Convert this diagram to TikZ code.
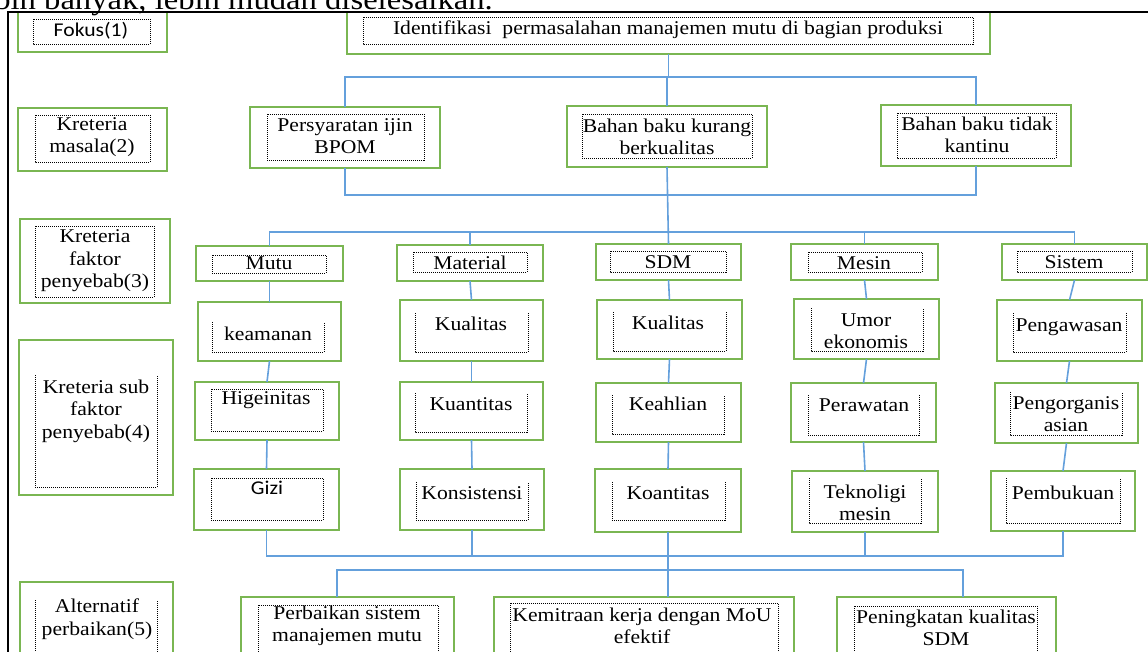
\documentclass[tikz,border=0pt]{standalone}
\usepackage{fontspec}
\setmainfont{Liberation Serif}[FakeStretch=1.11]
\newfontfamily\calfont{Carlito}[FakeStretch=1.11]
\usetikzlibrary{fit}
\definecolor{boxgreen}{RGB}{122,182,82}
\definecolor{linkblue}{RGB}{100,160,220}
\tikzset{
  gbox/.style={draw=boxgreen, line width=1.8pt, inner sep=0pt, outer sep=0pt},
  dotbox/.style={draw=black, line width=1pt, dash pattern=on 1pt off 1pt},
  txt/.style={inner sep=0pt, align=center, font=\fontsize{19.5}{22.5}\selectfont},
  link/.style={draw=linkblue, line width=1.6pt},
  frameline/.style={draw=black, line width=2pt},
}
\newcommand\gbx[5]{\node[gbox, fit={(#2,#3) (#4,#5)}] (#1) {};}
\newcommand\dbx[4]{\draw[dotbox] (#1,#2) rectangle (#3,#4);}
\newcommand\obx[4]{\draw[dotbox] (#1,#2) -- (#1,#4) -- (#3,#4) -- (#3,#2);}
\newcommand\tnx[4]{\node[txt] (#1) at (#2,#3) {#4};}
\begin{document}
\begin{tikzpicture}[x=1pt,y=-1pt]
\useasboundingbox (0,0) rectangle (1148,651);
\begin{scope}
\clip (0,0) rectangle (1148,651);
% cropped line of body text above the frame
\node[inner sep=0pt, anchor=base east, font=\fontsize{29.4}{35}\selectfont] (bodyline) at (493,9) {lebih banyak, lebih mudah diselesaikan.};

% ---------- left column ----------
\gbx{fok}{18}{12}{167}{52}      \dbx{33}{19}{150}{44}
\node[txt, font=\calfont\fontsize{19.5}{22.5}\selectfont] (tfok) at (91,31) {Fokus(1)};
\gbx{kr2}{18}{108}{167}{171}    \dbx{35}{115}{150}{162}
\tnx{tkr2}{92}{137}{Kreteria\\masala(2)}
\gbx{kr3}{20}{219}{170}{303}    \dbx{35}{226}{154}{297}
\tnx{tkr3}{95}{261}{Kreteria\\faktor\\penyebab(3)}
\gbx{kr4}{19}{340}{173}{495}    \obx{35}{375}{157}{487}
\tnx{tkr4}{96}{411}{Kreteria sub\\faktor\\penyebab(4)}
\gbx{kr5}{20}{582}{173}{680}    \obx{35}{600}{157}{680}
\tnx{tkr5}{97}{619}{Alternatif\\perbaikan(5)}

% ---------- focus ----------
\gbx{ident}{347}{12}{990}{54}   \dbx{363}{17}{973}{44}
\tnx{tident}{668}{30}{Identifikasi\ \ permasalahan manajemen mutu di bagian produksi}

% ---------- criteria ----------
\gbx{persy}{250}{107}{440}{168}  \dbx{267}{114}{424}{160}
\tnx{tpersy}{345}{136}{Persyaratan ijin\\BPOM}
\gbx{kurang}{567}{106}{767}{167} \dbx{582}{114}{752}{158}
\tnx{tkurang}{667}{137}{Bahan baku kurang\\berkualitas}
\gbx{tidak}{881}{105}{1071}{166} \dbx{897}{113}{1056}{158}
\tnx{ttidak}{977}{135}{Bahan baku tidak\\kantinu}

% ---------- factors ----------
\gbx{mutu}{196}{246}{343}{281}    \dbx{212}{255}{326}{273}
\tnx{tmutu}{269}{263}{Mutu}
\gbx{mater}{397}{245}{543}{281}   \dbx{413}{252}{527}{272}
\tnx{tmater}{470}{263}{Material}
\gbx{sdm}{596}{244}{741}{280}     \dbx{610}{251}{726}{272}
\tnx{tsdm}{668}{262}{SDM}
\gbx{mesin}{791}{244}{938}{280}   \dbx{808}{252}{922}{272}
\tnx{tmesin}{864}{263}{Mesin}
\gbx{sistem}{1002}{244}{1147}{280} \dbx{1017}{251}{1132}{272}
\tnx{tsistem}{1074}{262}{Sistem}

% ---------- sub factors, row A ----------
\gbx{keam}{198}{302}{341}{361}    \obx{212}{322}{324}{352}
\tnx{tkeam}{268}{334}{keamanan}
\gbx{kualm}{400}{300}{543}{361}   \obx{415}{313}{528}{352}
\tnx{tkualm}{471}{324}{Kualitas}
\gbx{kuals}{597}{300}{742}{359}   \obx{613}{312}{726}{351}
\tnx{tkuals}{668}{323}{Kualitas}
\gbx{umor}{794}{299}{939}{359}    \obx{811}{308}{923}{351}
\tnx{tumor}{866}{331}{Umor\\ekonomis}
\gbx{pengaw}{997}{300}{1142}{361} \obx{1013}{313}{1126}{352}
\tnx{tpengaw}{1069}{327}{Pengawasan}

% ---------- sub factors, row B ----------
\gbx{hig}{195}{382}{339}{440}     \dbx{211}{389}{323}{431}
\tnx{thig}{266}{400}{Higeinitas}
\gbx{kuant}{400}{382}{543}{440}   \obx{415}{393}{527}{432}
\tnx{tkuant}{471}{404}{Kuantitas}
\gbx{keahl}{596}{383}{741}{442}   \obx{612}{395}{724}{434}
\tnx{tkeahl}{668}{404}{Keahlian}
\gbx{peraw}{791}{383}{936}{442}   \obx{808}{395}{919}{435}
\tnx{tperaw}{864}{405}{Perawatan}
\gbx{pengor}{995}{383}{1138}{443} \obx{1010}{392}{1122}{435}
\tnx{tpengor}{1066}{414}{Pengorganis\\asian}

% ---------- sub factors, row C ----------
\gbx{gizi}{194}{469}{339}{530}    \dbx{211}{478}{323}{520}
\node[txt, font=\calfont\fontsize{19.5}{22.5}\selectfont] (tgizi) at (267,488) {Gizi};
\gbx{konsis}{400}{469}{544}{530}  \obx{416}{482}{528}{520}
\tnx{tkonsis}{472}{493}{Konsistensi}
\gbx{koant}{595}{469}{741}{532}   \obx{612}{482}{725}{520}
\tnx{tkoant}{668}{493}{Koantitas}
\gbx{tekno}{792}{471}{938}{532}   \obx{809}{478}{921}{523}
\tnx{ttekno}{865}{503}{Teknoligi\\mesin}
\gbx{pembuk}{991}{471}{1135}{531} \obx{1006}{478}{1120}{523}
\tnx{tpembuk}{1063}{493}{Pembukuan}

% ---------- alternatives ----------
\gbx{perb}{241}{597}{454}{680}    \dbx{258}{605}{438}{680}
\tnx{tperb}{347}{626}{Perbaikan sistem\\manajemen mutu}
\gbx{kemit}{494}{597}{794}{680}   \dbx{510}{603}{778}{680}
\tnx{tkemit}{642}{626}{Kemitraan kerja dengan MoU\\efektif}
\gbx{pening}{837}{597}{1056}{680} \dbx{854}{606}{1037}{680}
\tnx{tpening}{946}{628}{Peningkatan kualitas\\SDM}

% ---------- connectors ----------
\coordinate (j1) at (663,77);
\coordinate (j2) at (663,195);
\coordinate (j3) at (663,232);
\coordinate (j4) at (663,556);
\coordinate (b5l) at (337,570);
\coordinate (b5r) at (963,570);

\draw[link] (ident.south) -- (ident.south |- j1);
\draw[link] (persy.north) -- (persy.north |- j1) -- (tidak.north |- j1) -- (tidak.north);
\draw[link] (kurang.north) -- (kurang.north |- j1);

\draw[link] (persy.south) -- (persy.south |- j2) -- (tidak.south |- j2) -- (tidak.south);
\draw[link] (kurang.south) -- (sdm.north);

\draw[link] (mutu.north) -- (mutu.north |- j3) -- (sistem.north |- j3) -- (sistem.north);
\draw[link] (mater.north) -- (mater.north |- j3);
\draw[link] (mesin.north) -- (mesin.north |- j3);

\draw[link] (mutu.south) -- (keam.north);
\draw[link] (keam.south) -- (hig.north);
\draw[link] (hig.south) -- (gizi.north);
\draw[link] (mater.south) -- (kualm.north);
\draw[link] (kualm.south) -- (kuant.north);
\draw[link] (kuant.south) -- (konsis.north);
\draw[link] (sdm.south) -- (kuals.north);
\draw[link] (kuals.south) -- (keahl.north);
\draw[link] (keahl.south) -- (koant.north);
\draw[link] (mesin.south) -- (umor.north);
\draw[link] (umor.south) -- (peraw.north);
\draw[link] (peraw.south) -- (tekno.north);
\draw[link] (sistem.south) -- (pengaw.north);
\draw[link] (pengaw.south) -- (pengor.north);
\draw[link] (pengor.south) -- (pembuk.north);

\draw[link] (gizi.south) -- (gizi.south |- j4) -- (pembuk.south |- j4) -- (pembuk.south);
\draw[link] (konsis.south) -- (konsis.south |- j4);
\draw[link] (tekno.south) -- (tekno.south |- j4);
\draw[link] (koant.south) -- (koant.south |- kemit.north);
\draw[link] (perb.north -| b5l) -- (b5l) -- (b5r) -- (pening.north -| b5r);

% outer frame
\draw[frameline] (8,700) -- (8,12) -- (1200,12);
\end{scope}
\end{tikzpicture}
\end{document}
